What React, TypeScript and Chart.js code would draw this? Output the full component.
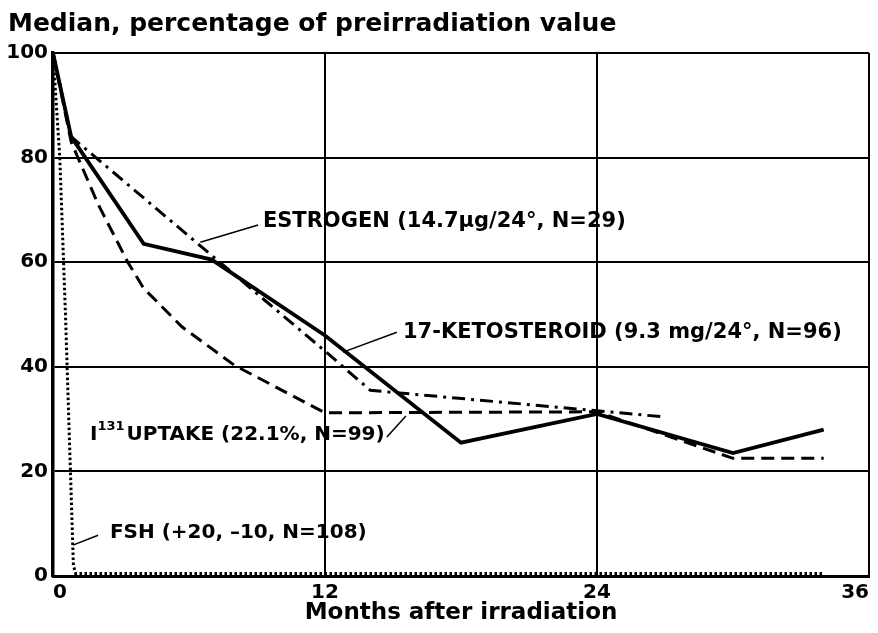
import React, { useEffect, useRef } from "react";
import { Chart, registerables } from "chart.js";

Chart.register(...registerables);

const yAxisTitle = "Median, percentage of preirradiation value";
const xAxisTitle = "Months after irradiation";
const xTickStep = 12;
const yTickStep = 20;

// 17-KETOSTEROID (solid)
const ketoMonths = [0, 0.8, 4, 7, 12, 18, 24, 30, 34];
const ketoValues = [100, 84, 63.5, 60.5, 46, 25.5, 31, 23.5, 28];

// ESTROGEN (dash-dot)
const estrogenMonths = [0, 0.8, 12, 14, 24, 27];
const estrogenValues = [100, 84, 43, 35.5, 31.6, 30.4];

// I131 UPTAKE (dashed)
const uptakeMonths = [0, 0.8, 2, 3.3, 4, 5.7, 8, 12, 24, 30, 34];
const uptakeValues = [100, 83, 71, 60, 55, 47.6, 40.3, 31.2, 31.4, 22.5, 22.5];

// FSH (dotted)
const fshMonths = [0, 0.3, 0.55, 0.9, 1, 34];
const fshValues = [100, 80, 50, 2, 0.5, 0.5];

const FONT = "'DejaVu Sans', sans-serif";

type Note = {
  parts: { text: string; size: number; rise?: number }[];
  at: [number, number];
  leader: [[number, number], [number, number]];
};

const notes: Note[] = [
  {
    parts: [{ text: "ESTROGEN (14.7\u03bcg/24\u00b0, N=29)", size: 21 }],
    at: [9.26, 67.7],
    leader: [[6.5, 63.8], [9.05, 67.1]],
  },
  {
    parts: [{ text: "17-KETOSTEROID (9.3 mg/24\u00b0, N=96)", size: 21 }],
    at: [15.44, 46.6],
    leader: [[12.8, 42.8], [15.17, 46.6]],
  },
  {
    parts: [
      { text: "I", size: 20 },
      { text: "131", size: 13, rise: 8 },
      { text: "UPTAKE (22.1%, N=99)", size: 20 },
    ],
    at: [1.63, 27.0],
    leader: [[14.73, 26.6], [15.57, 30.6]],
  },
  {
    parts: [{ text: "FSH (+20, \u201310, N=108)", size: 20 }],
    at: [2.51, 8.2],
    leader: [[0.88, 5.9], [1.99, 7.8]],
  },
];

const toPoints = (xs: number[], ys: number[]) => xs.map((x, i) => ({ x, y: ys[i] }));

const notesPlugin = {
  id: "notes",
  afterDatasetsDraw(chart: any) {
    const { ctx, scales } = chart;
    const xs = scales.x;
    const ys = scales.y;
    ctx.save();
    ctx.fillStyle = "#000";
    ctx.strokeStyle = "#000";
    ctx.lineWidth = 1.5;
    for (const n of notes) {
      ctx.beginPath();
      ctx.moveTo(xs.getPixelForValue(n.leader[0][0]), ys.getPixelForValue(n.leader[0][1]));
      ctx.lineTo(xs.getPixelForValue(n.leader[1][0]), ys.getPixelForValue(n.leader[1][1]));
      ctx.stroke();
      let px = xs.getPixelForValue(n.at[0]);
      const py = ys.getPixelForValue(n.at[1]);
      ctx.textBaseline = "middle";
      ctx.textAlign = "left";
      for (const p of n.parts) {
        ctx.font = `bold ${p.size}px ${FONT}`;
        ctx.fillText(p.text, px, py - (p.rise || 0));
        px += ctx.measureText(p.text).width + (p.rise ? 2 : 0);
      }
    }
    ctx.restore();
  },
};

export default function App() {
  const ref = useRef<HTMLCanvasElement>(null);

  useEffect(() => {
    if (!ref.current) return;
    const base = {
      borderColor: "#000",
      backgroundColor: "#000",
      pointRadius: 0,
      tension: 0,
      fill: false,
    };
    const chart = new Chart(ref.current, {
      type: "line",
      data: {
        datasets: [
          { ...base, label: "FSH", data: toPoints(fshMonths, fshValues), borderWidth: 3, borderDash: [2.5, 2.5] },
          { ...base, label: "I131 uptake", data: toPoints(uptakeMonths, uptakeValues), borderWidth: 3, borderDash: [13, 7] },
          { ...base, label: "Estrogen", data: toPoints(estrogenMonths, estrogenValues), borderWidth: 3, borderDash: [13, 6, 3, 6] },
          { ...base, label: "17-Ketosteroid", data: toPoints(ketoMonths, ketoValues), borderWidth: 3.8 },
        ],
      },
      options: {
        animation: false,
        responsive: false,
        layout: { padding: { left: 8, right: 9, top: 0, bottom: 0 } },
        plugins: {
          legend: { display: false },
          tooltip: { enabled: false },
          title: {
            display: true,
            text: yAxisTitle,
            align: "start",
            color: "#000",
            font: { family: FONT, size: 25, weight: "bold" },
            padding: { top: 9, bottom: 14 },
          },
        },
        scales: {
          x: {
            type: "linear",
            min: 0,
            max: 36,
            ticks: {
              stepSize: xTickStep,
              color: "#000",
              font: { family: FONT, size: 20, weight: "bold" },
              align: "inner",
              padding: 5,
              maxRotation: 0,
            },
            grid: { color: "#000", lineWidth: 2, drawTicks: false },
            border: { display: true, color: "#000", width: 3 },
            title: {
              display: true,
              text: xAxisTitle,
              color: "#000",
              font: { family: FONT, size: 23, weight: "bold" },
              padding: { top: 0, bottom: 6 },
            },
            afterFit: (s: any) => {
              s.height = 57;
            },
          },
          y: {
            type: "linear",
            min: 0,
            max: 100,
            ticks: {
              stepSize: yTickStep,
              color: "#000",
              font: { family: FONT, size: 20, weight: "bold" },
              padding: 5,
            },
            grid: { color: "#000", lineWidth: 2, drawTicks: false },
            border: { display: true, color: "#000", width: 3.5 },
            afterFit: (s: any) => {
              s.width = 45;
            },
          },
        },
      },
      plugins: [notesPlugin],
    } as any);
    return () => chart.destroy();
  }, []);

  return (
    <div style={{ position: "fixed", left: 0, top: 0, width: 878, height: 633, background: "#fff" }}>
      <canvas ref={ref} width={878} height={633} />
    </div>
  );
}
